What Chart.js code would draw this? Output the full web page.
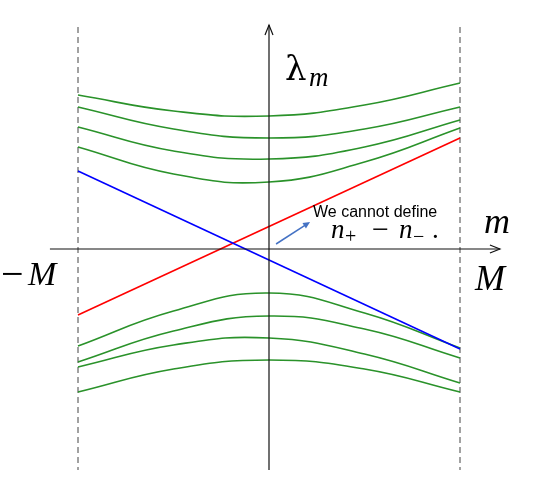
<!DOCTYPE html>
<html>
<head>
<meta charset="utf-8">
<style>
  html, body { margin: 0; padding: 0; background: #fff; }
  #chart-container { width: 545px; height: 495px; }
</style>
<script src="https://cdn.jsdelivr.net/npm/chart.js"></script>
</head>
<body>
<div id="chart-container"><canvas id="chart" width="545" height="495"></canvas></div>
<script>
// m values where the bands were read (M = 1)
const mGrid = [-1, -0.5, 0, 0.5, 1];

// upper bands (lambda_m > 0), top to bottom
const upper1 = [1.54, 1.38, 1.33, 1.44, 1.66];
const upper2 = [1.42, 1.20, 1.11, 1.20, 1.42];
const upper3 = [1.22, 0.98, 0.90, 1.02, 1.29];
const upper4 = [1.02, 0.75, 0.67, 0.87, 1.21];

// lower bands (lambda_m < 0), top to bottom
const lower1 = [-0.97, -0.62, -0.44, -0.64, -0.99];
const lower2 = [-1.13, -0.82, -0.67, -0.80, -1.09];
const lower3 = [-1.18, -0.96, -0.89, -1.05, -1.34];
const lower4 = [-1.43, -1.20, -1.11, -1.20, -1.43];

// the two crossing modes, given at m = -M and m = M
const mEnds = [-1, 1];
const redMode = [-0.66, 1.11];
const blueMode = [0.78, -1.00];

// axis extents
const mAxis = [-1.147, 1.209];
const lambdaAxis = [-2.21, 2.24];

const pts = (xs, ys) => xs.map((x, i) => ({ x, y: ys[i] }));

const greenBands = [upper1, upper2, upper3, upper4, lower1, lower2, lower3, lower4];

const datasets = [
    { data: pts(mEnds, blueMode), borderColor: '#0000ff', borderWidth: 1.6 },
    { data: pts(mEnds, redMode), borderColor: '#ff0000', borderWidth: 1.6 }
];
greenBands.forEach(b => {
    datasets.push({ data: pts(mGrid, b), borderColor: '#2a922a', borderWidth: 1.6, tension: 0.45 });
});

function arrowHead(ctx, x, y, dx, dy, len, half, filled) {
    const l = Math.hypot(dx, dy);
    const ux = dx / l, uy = dy / l;
    const bx = x - ux * len, by = y - uy * len;
    ctx.beginPath();
    ctx.moveTo(bx - uy * half, by + ux * half);
    ctx.lineTo(x, y);
    ctx.lineTo(bx + uy * half, by - ux * half);
    if (filled) { ctx.closePath(); ctx.fill(); } else { ctx.stroke(); }
}

const decorations = {
    id: 'decorations',
    beforeDatasetsDraw(chart) {
        const { ctx, scales: { x, y } } = chart;
        ctx.save();
        // dashed verticals at -M and M
        ctx.strokeStyle = '#444';
        ctx.lineWidth = 1;
        ctx.setLineDash([6, 4]);
        [-1, 1].forEach(v => {
            ctx.beginPath();
            ctx.moveTo(x.getPixelForValue(v), y.getPixelForValue(2.22));
            ctx.lineTo(x.getPixelForValue(v), y.getPixelForValue(lambdaAxis[0]));
            ctx.stroke();
        });
        ctx.restore();
    },
    afterDatasetsDraw(chart) {
        const { ctx, scales: { x, y } } = chart;
        ctx.save();
        ctx.strokeStyle = '#111';
        ctx.lineWidth = 1.2;
        const x0 = x.getPixelForValue(0), y0 = y.getPixelForValue(0);
        // m axis
        const xa = x.getPixelForValue(mAxis[0]), xb = x.getPixelForValue(mAxis[1]);
        ctx.beginPath(); ctx.moveTo(xa, y0); ctx.lineTo(xb, y0); ctx.stroke();
        arrowHead(ctx, xb, y0, 1, 0, 10, 4, false);
        // lambda axis
        const ya = y.getPixelForValue(lambdaAxis[0]), yb = y.getPixelForValue(lambdaAxis[1]);
        ctx.beginPath(); ctx.moveTo(x0, ya); ctx.lineTo(x0, yb); ctx.stroke();
        arrowHead(ctx, x0, yb, 0, -1, 10, 4, false);

        // annotation arrow
        const ax1 = x.getPixelForValue(0.037), ay1 = y.getPixelForValue(0.05);
        const ax2 = x.getPixelForValue(0.215), ay2 = y.getPixelForValue(0.27);
        ctx.strokeStyle = '#4472c4';
        ctx.fillStyle = '#4472c4';
        ctx.lineWidth = 1.5;
        ctx.beginPath(); ctx.moveTo(ax1, ay1); ctx.lineTo(ax2 - 4, ay2 + 2.6); ctx.stroke();
        arrowHead(ctx, ax2, ay2, ax2 - ax1, ay2 - ay1, 7, 3.2, true);

        ctx.fillStyle = '#000';
        ctx.textBaseline = 'alphabetic';
        ctx.textAlign = 'left';
        ctx.font = '16px "Liberation Sans", sans-serif';
        ctx.fillText('We cannot define', 313, 217, 126);

        // n_+ - n_-.
        const serifI = s => 'italic ' + s + 'px "Liberation Serif", serif';
        const serif = s => s + 'px "Liberation Serif", serif';
        const base = 238;
        ctx.font = serifI(27); ctx.fillText('n', 331, base);
        ctx.font = serif(20); ctx.fillText('+', 345, base + 5);
        ctx.font = serif(30); ctx.fillText('\u2212', 372, base + 1);
        ctx.font = serifI(27); ctx.fillText('n', 399, base);
        ctx.font = serif(20); ctx.fillText('\u2212', 413, base + 5);
        ctx.font = serif(27); ctx.fillText('.', 432, base);

        // lambda_m
        ctx.font = '34px "DejaVu Serif", serif'; ctx.fillText('\u03bb', 285, 80);
        ctx.font = serifI(27); ctx.fillText('m', 309, 86);

        // m, -M, M
        ctx.font = serifI(36); ctx.fillText('m', 484, 233);
        ctx.font = serif(40); ctx.fillText('\u2212', 1, 287);
        ctx.font = serifI(34); ctx.fillText('M', 28, 285);
        ctx.font = serifI(36); ctx.fillText('M', 475, 290);
        ctx.restore();
    }
};

new Chart(document.getElementById('chart').getContext('2d'), {
    type: 'line',
    data: { datasets },
    options: {
        responsive: false,
        animation: false,
        events: [],
        layout: { padding: 0 },
        elements: { point: { radius: 0 } },
        plugins: { legend: { display: false }, tooltip: { enabled: false } },
        scales: {
            x: { type: 'linear', display: false, min: -269 / 191, max: 276 / 191 },
            y: { type: 'linear', display: false, min: -2.46, max: 2.49 }
        }
    },
    plugins: [decorations]
});
</script>
</body>
</html>
